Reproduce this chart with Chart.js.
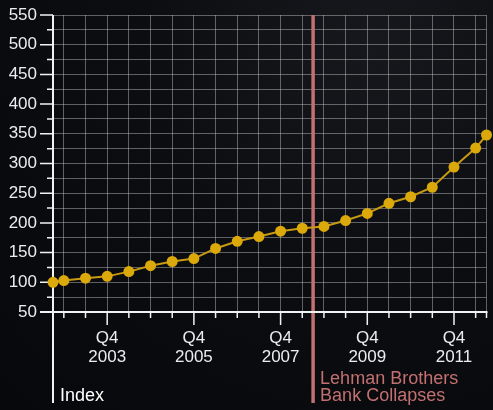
<!DOCTYPE html>
<html lang="en">
<head>
  <meta charset="UTF-8">
  <title>Index since 2002</title>
  <script src="https://cdn.jsdelivr.net/npm/chart.js"></script>
  <style>
    body {
      margin: 0;
      background: radial-gradient(ellipse at 75% 10%, #16181d 0%, #0b0d11 45%, #07080b 100%);
    }
    #wrap {
      width: 493px;
      height: 410px;
    }
  </style>
</head>
<body>
<div id="wrap"><canvas id="indexChart" width="493" height="410"></canvas></div>
<script>
  // data
  const quarters = ['Q3 2002', 'Q4 2002', 'Q2 2003', 'Q4 2003', 'Q2 2004', 'Q4 2004',
    'Q2 2005', 'Q4 2005', 'Q2 2006', 'Q4 2006', 'Q2 2007', 'Q4 2007', 'Q2 2008',
    'Q4 2008', 'Q2 2009', 'Q4 2009', 'Q2 2010', 'Q4 2010', 'Q2 2011', 'Q4 2011',
    'Q2 2012', 'Q3 2012'];
  const indexValues = [100, 103, 107, 110, 118, 128, 135, 140, 157, 169, 177, 186, 191,
    194, 204, 216, 233, 244, 260, 294, 326, 348];
  const labelledQuarters = ['Q4 2003', 'Q4 2005', 'Q4 2007', 'Q4 2009', 'Q4 2011'];
  const xStart = 'Q3 2002';
  const xEnd = 'Q3 2012';
  const yMin = 50, yMax = 550, yStep = 25, yLabelStep = 50;
  const eventQuarter = 'Q3 2008';
  const eventText = ['Lehman Brothers', 'Bank Collapses'];
  const axisTitle = 'Index';

  const FONT = "'Liberation Sans', Arial, sans-serif";
  const GOLD = '#dba90b';
  const LINE = '#c79a12';
  const ROSE = '#c27070';
  const TEXT = '#ececec';

  // 'Q4 2003' -> running quarter number
  function qNum(s) {
    const q = +s[1];
    const y = +s.slice(3);
    return y * 4 + q - 1;
  }
  function qName(n) {
    return 'Q' + (n % 4 + 1) + ' ' + Math.floor(n / 4);
  }

  const points = quarters.map((q, i) => ({ x: qNum(q), y: indexValues[i] }));

  const overlay = {
    id: 'overlay',
    beforeDatasetsDraw(chart) {
      const { ctx, chartArea: a, scales: { x, y } } = chart;
      ctx.save();
      // event line
      const ex = x.getPixelForValue(qNum(eventQuarter));
      ctx.strokeStyle = ROSE;
      ctx.lineWidth = 3.5;
      ctx.beginPath();
      ctx.moveTo(ex, a.top);
      ctx.lineTo(ex, 403);
      ctx.stroke();

      // axis lines
      ctx.strokeStyle = '#f2f2f2';
      ctx.lineWidth = 2;
      ctx.beginPath();
      ctx.moveTo(a.left, a.top);
      ctx.lineTo(a.left, 403);
      ctx.moveTo(a.left - 13, a.bottom);
      ctx.lineTo(a.right + 1, a.bottom);
      ctx.stroke();

      // tick marks
      ctx.lineWidth = 1.5;
      ctx.beginPath();
      y.ticks.forEach(t => {
        const py = y.getPixelForValue(t.value);
        const len = t.value % yLabelStep === 0 ? 13 : 6;
        ctx.moveTo(a.left - len, py);
        ctx.lineTo(a.left, py);
      });
      x.ticks.forEach(t => {
        if (t.value === x.min) return;
        const px = x.getPixelForValue(t.value);
        const len = labelledQuarters.includes(qName(t.value)) ? 13 : 6;
        ctx.moveTo(px, a.bottom);
        ctx.lineTo(px, a.bottom + len);
      });
      ctx.stroke();

      // texts
      ctx.textBaseline = 'middle';
      ctx.textAlign = 'left';
      ctx.font = '18px ' + FONT;
      ctx.fillStyle = ROSE;
      ctx.fillText(eventText[0], ex + 7, 379);
      ctx.fillText(eventText[1], ex + 7, 396);
      ctx.fillStyle = '#ffffff';
      ctx.fillText(axisTitle, a.left + 7, 396);
      ctx.restore();
    }
  };

  new Chart(document.getElementById('indexChart'), {
    type: 'line',
    data: {
      datasets: [{
        data: points,
        borderColor: LINE,
        borderWidth: 2,
        pointBackgroundColor: GOLD,
        pointBorderColor: GOLD,
        pointRadius: 4.5,
        pointHoverRadius: 4.5,
        tension: 0,
        clip: false
      }]
    },
    options: {
      responsive: false,
      animation: false,
      layout: { padding: { top: 15, right: 4, left: 0, bottom: 0 } },
      plugins: { legend: { display: false }, tooltip: { enabled: false } },
      scales: {
        x: {
          type: 'linear',
          min: qNum(xStart),
          max: qNum(xEnd),
          afterFit(scale) {
            scale.height = 98;
            scale.paddingLeft = 0;
            scale.paddingRight = 0;
          },
          afterBuildTicks(axis) {
            const ticks = [];
            for (let n = qNum(xStart); n <= qNum(xEnd); n++) {
              if (n === qNum(xStart) || n === qNum(xEnd) || n % 2 === 1) ticks.push({ value: n });
            }
            axis.ticks = ticks;
          },
          grid: { color: 'rgba(200,200,200,0.45)', lineWidth: 1, drawTicks: false },
          border: { display: false },
          ticks: {
            autoSkip: false,
            maxRotation: 0,
            padding: 17,
            color: TEXT,
            font: { family: FONT, size: 17, lineHeight: 1.1 },
            callback(v) {
              const name = qName(v);
              return labelledQuarters.includes(name) ? name.split(' ') : '';
            }
          }
        },
        y: {
          min: yMin,
          max: yMax,
          afterFit(scale) {
            scale.width = 53;
            scale.paddingTop = 0;
            scale.paddingBottom = 0;
          },
          grid: { color: 'rgba(200,200,200,0.45)', lineWidth: 1, drawTicks: false },
          border: { display: false },
          ticks: {
            stepSize: yStep,
            autoSkip: false,
            padding: 16,
            color: TEXT,
            font: { family: FONT, size: 17 },
            callback(v) { return v % yLabelStep === 0 ? v : ''; }
          }
        }
      }
    },
    plugins: [overlay]
  });
</script>
</body>
</html>
